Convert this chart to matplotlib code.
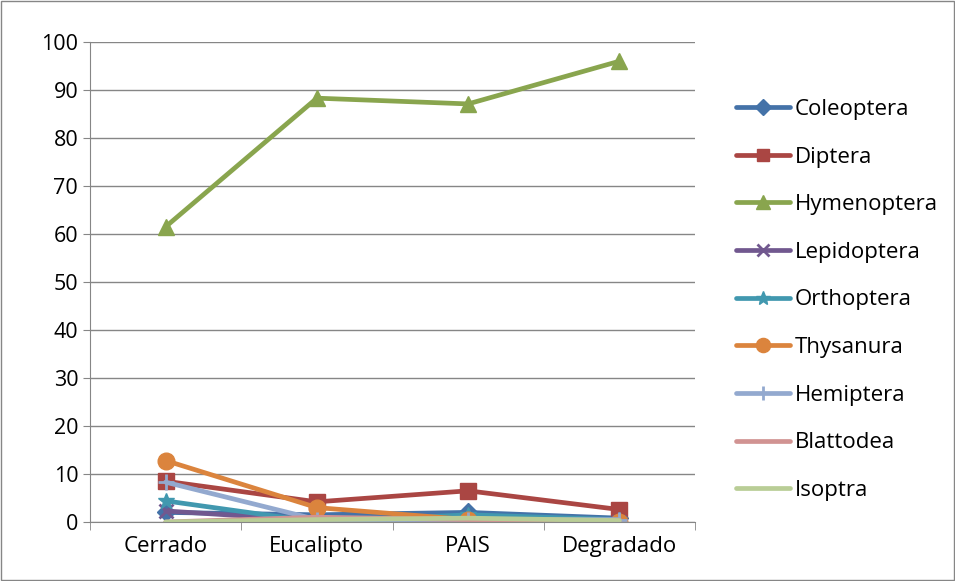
import numpy as np
import matplotlib.pyplot as plt

# Abundância relativa (%) por ordem em cada área
areas = ['Cerrado', 'Eucalipto', 'PAIS', 'Degradado']
ordens = ['Coleoptera', 'Diptera', 'Hymenoptera', 'Lepidoptera', 'Orthoptera',
          'Thysanura', 'Hemiptera', 'Blattodea', 'Isoptra']

coleoptera = [2.0, 1.5, 2.0, 0.8]
diptera = [8.5, 4.2, 6.5, 2.6]
hymenoptera = [61.5, 88.3, 87.1, 96.0]
lepidoptera = [2.3, 0.3, 0.0, 0.0]
orthoptera = [4.4, 0.0, 1.5, 0.5]
thysanura = [12.8, 3.0, 0.5, 0.0]
hemiptera = [8.3, 0.5, 0.5, 0.5]
blattodea = [0.0, 1.0, 0.5, 0.3]
isoptra = [0.0, 0.5, 0.8, 0.3]

series = [coleoptera, diptera, hymenoptera, lepidoptera, orthoptera,
          thysanura, hemiptera, blattodea, isoptra]
cores = ['#4472A8', '#AA4643', '#89A54E', '#71588F', '#4198AF',
         '#DB843D', '#93A9CF', '#D19392', '#B9CD96']
marcadores = ['D', 's', '^', 'x', '*', 'o', '+', None, None]
tamanhos = [9, 11, 12, 10, 12, 12, 12, 0, 0]

plt.rcParams['font.family'] = ['Open Sans', 'DejaVu Sans']

fig = plt.figure(figsize=(9.55, 5.81), dpi=100)
ax = fig.add_axes([90 / 955, 1 - 522 / 581, 605 / 955, 480 / 581])

x = np.arange(len(areas))
for vals, nome, cor, m, ms in zip(series, ordens, cores, marcadores, tamanhos):
    ax.plot(x, vals, color=cor, lw=3.4, marker=m, ms=ms, mew=2 if m in ('x', '+') else 1,
            label=nome, solid_capstyle='round')

ax.set_xlim(-0.5, 3.5)
ax.set_ylim(0, 100)
ax.set_yticks(range(0, 101, 10))
ax.set_xticks(x)
ax.set_xticklabels(areas)
ax.set_xticks(np.arange(-0.5, 3.6, 1), minor=True)
ax.tick_params(axis='x', which='major', length=0, labelsize=16, pad=10)
ax.tick_params(axis='x', which='minor', length=6, color='#868686')
ax.tick_params(axis='y', length=5, color='#868686', labelsize=15.5)
ax.yaxis.grid(True, color='#868686', lw=1)
ax.set_axisbelow(True)
for s in ['top', 'right']:
    ax.spines[s].set_visible(False)
for s in ['left', 'bottom']:
    ax.spines[s].set_color('#868686')

leg = ax.legend(loc='center left', bbox_to_anchor=(1.035, 0.4625), frameon=False,
                fontsize=16, handlelength=2.4, labelspacing=1.2, handletextpad=0.25,
                markerscale=0.85)

fig.patches.append(plt.Rectangle((0.001, 0.001), 0.998, 0.998, transform=fig.transFigure,
                                 fill=False, edgecolor='#868686', lw=1))
fig.savefig('out.png', dpi=100)
